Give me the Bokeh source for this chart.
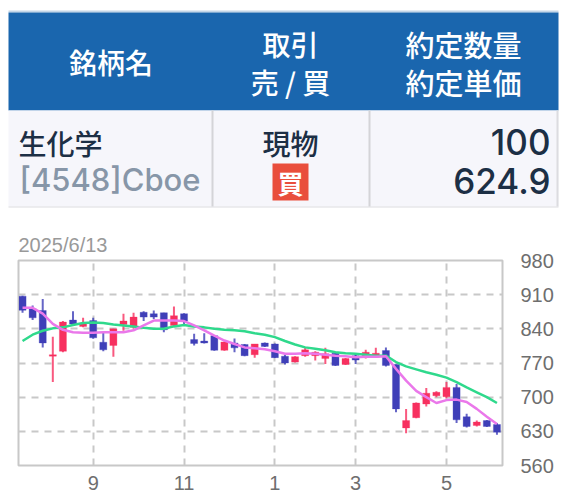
from bokeh.plotting import figure
from bokeh.models import ColumnDataSource, FixedTicker
from bokeh.core.properties import value
from bokeh.embed import file_html
from bokeh.resources import INLINE

# ---- table content
header_texts = ["銘柄名", "取引", "売 / 買", "約定数量", "約定単価"]
name_text = "生化学"
code_text = "[4548]Cboe"
kind_text = "現物"
side_text = "買"
qty_text = "100"
price_text = "624.9"

# ---- chart data
date_text = "2025/6/13"
tick_pos = [7, 16, 25, 33, 42]
tick_labels = ["9", "11", "1", "3", "5"]
y_ticks = [560, 630, 700, 770, 840, 910, 980]

opens = [907, 881, 877.5, 784, 794, 858, 845, 857, 812.5, 806, 849, 843, 874, 871, 873, 847, 871,
         818, 815, 826, 796, 811, 808, 787, 811, 809, 784, 772, 785, 785, 779, 790, 767, 785, 782, 782,
         795.5, 767, 637, 658, 686, 703, 701, 720, 660, 642, 652, 644]
highs = [908, 888, 901, 824, 856, 876, 862.5, 862.5, 833, 840, 871, 873, 876, 877.5, 873, 886, 872,
         830, 831, 827, 814, 820, 809, 809, 812, 810, 787, 784, 802, 794, 801, 791, 780, 790, 797, 801,
         802, 767, 676, 689, 719, 712, 731, 727, 666, 652, 653, 647]
lows = [873, 858, 802, 731, 792, 848, 843, 819.5, 794, 783, 836, 840, 856, 860, 833, 845, 847,
        806, 810, 795, 795, 792, 784, 781, 803, 780, 767, 771, 783, 775, 768, 764, 766, 768, 779, 781,
        763, 669, 626, 657, 681, 700, 698, 647, 638, 640, 639, 623]
closes = [878, 862.5, 811, 787, 854, 850, 852, 821.5, 797, 840, 856, 864, 864, 864, 838, 867, 856,
          810, 811, 796, 813, 801, 785, 809, 804, 781, 770, 783, 797, 792, 789, 765, 779, 776, 792, 790,
          765, 676, 652, 688, 708, 710, 720, 653.5, 640, 649, 640, 628]
ma_short = [883, 883, 871, 850, 838, 833, 832, 832, 833, 833, 833, 837, 847, 857, 857, 857, 856,
            847, 837, 826, 816, 809, 802, 800, 798, 794, 789, 789, 790, 789, 787, 785, 784, 782, 783, 783,
            784, 758, 734, 713, 700, 688, 694, 695, 690, 676, 660, 645]
ma_long = [815, 828, 836, 841, 843, 848, 852, 853, 852, 849, 847, 845, 842, 840, 840, 845, 848,
           845, 843, 840, 838, 837, 835, 831, 828, 823, 815, 808, 802, 799, 796, 792, 790, 789, 787, 785,
           785, 772, 763, 757, 751, 746, 740, 731, 720, 710, 700, 688]

CJK = value("Noto Sans CJK JP")
CJKM = value("Noto Sans CJK JP Medium")
LATM = value("Inter Medium")
W = 568

# ---- table figure, in page pixels
t = figure(width=W, height=208, x_range=(0, W), y_range=(208, 0), toolbar_location=None,
           output_backend="svg", min_border=0)
t.axis.visible = False
t.grid.visible = False
t.outline_line_color = None


def rect(x0, x1, y0, y1, color):
    t.quad(left=x0, right=x1, top=y0, bottom=y1, fill_color=color, line_color=None)


rect(8, 558, 10, 12, "#c3d6e8")
rect(8, 558, 12, 110, "#1a66ae")
rect(8, 558, 110, 206, "#f6f6fb")
rect(8, 558, 206, 207, "#dcdce0")
rect(211, 213, 110, 206, "#d4d4d8")
rect(368, 370, 110, 206, "#d4d4d8")
rect(556, 558, 110, 206, "#dcdce0")
rect(272, 308, 163, 200, "#e94e3c")


def txt(x, y, s, size, color, align="center", style="normal", font=CJK):
    t.text(x=[x], y=[y], text=[s], text_font=font, text_font_size=size, text_color=color,
           text_align=align, text_baseline="middle", text_font_style=style)


txt(110.5, 61, header_texts[0], "28px", "#ffffff", font=CJKM)
txt(290, 43, header_texts[1], "28px", "#ffffff", font=CJKM)
txt(290, 81, header_texts[2], "28px", "#ffffff", font=CJKM)
txt(463, 43, header_texts[3], "29px", "#ffffff", font=CJKM)
txt(463, 81, header_texts[4], "29px", "#ffffff", font=CJKM)
txt(18, 142, name_text, "28px", "#1c2f45", "left", font=CJKM)
txt(19, 179, code_text, "31px", "#8796a8", "left", font=LATM)
txt(290, 142, kind_text, "28px", "#1c2f45", font=CJKM)
txt(290, 182, side_text, "26px", "#ffffff", style="bold")
txt(550, 141, qty_text, "35px", "#1c2f45", "right", font=LATM)
txt(550, 180, price_text, "35px", "#1c2f45", "right", font=LATM)

# ---- chart figure
idx = list(range(len(opens)))
BLUE, RED = "#3f3fb8", "#f7305f"
colors = [RED if c >= o else BLUE for o, c in zip(opens, closes)]
src = ColumnDataSource(dict(x=idx, o=opens, h=highs, l=lows, c=closes, col=colors))

p = figure(width=W, height=290, x_range=(-0.4, 47.55), y_range=(560, 980), toolbar_location=None,
           output_backend="svg", y_axis_location="right", min_border_left=18, min_border_right=66,
           min_border_top=52, min_border_bottom=33, title=date_text)
p.title.text_font = "Liberation Sans"
p.title.text_font_size = "20px"
p.title.text_font_style = "normal"
p.title.text_color = "#999999"
p.title.align = "left"
p.title.standoff = 10
p.title.offset = 0
p.outline_line_color = "#c8c8c8"
p.outline_line_width = 2
p.background_fill_color = "#ffffff"

p.xaxis.ticker = FixedTicker(ticks=tick_pos)
p.xaxis.major_label_overrides = dict(zip(tick_pos, tick_labels))
p.yaxis.ticker = FixedTicker(ticks=y_ticks)
for ax in (p.xaxis[0], p.yaxis[0]):
    ax.axis_line_color = None
    ax.major_tick_line_color = None
    ax.minor_tick_line_color = None
    ax.major_label_text_color = "#6e6e6e"
    ax.major_label_text_font = "Liberation Sans"
    ax.major_label_text_font_size = "20px"
p.yaxis.major_label_standoff = 12
p.xaxis.major_label_standoff = 4
p.grid.grid_line_color = "#c8c8c8"
p.grid.grid_line_width = 2
p.grid.grid_line_dash = "7 6"

p.segment(x0="x", x1="x", y0="l", y1="h", color="col", line_width=2, line_alpha=0.8, source=src)
p.vbar(x="x", width=0.7, top="o", bottom="c", fill_color="col", line_color="col", line_alpha=0.3,
       source=src)
p.line(idx, ma_long, line_color="#2fd98c", line_width=2.5)
p.line(idx, ma_short, line_color="#ea78ea", line_width=2.5)

open("out.html", "w").write(file_html([t, p], INLINE))
